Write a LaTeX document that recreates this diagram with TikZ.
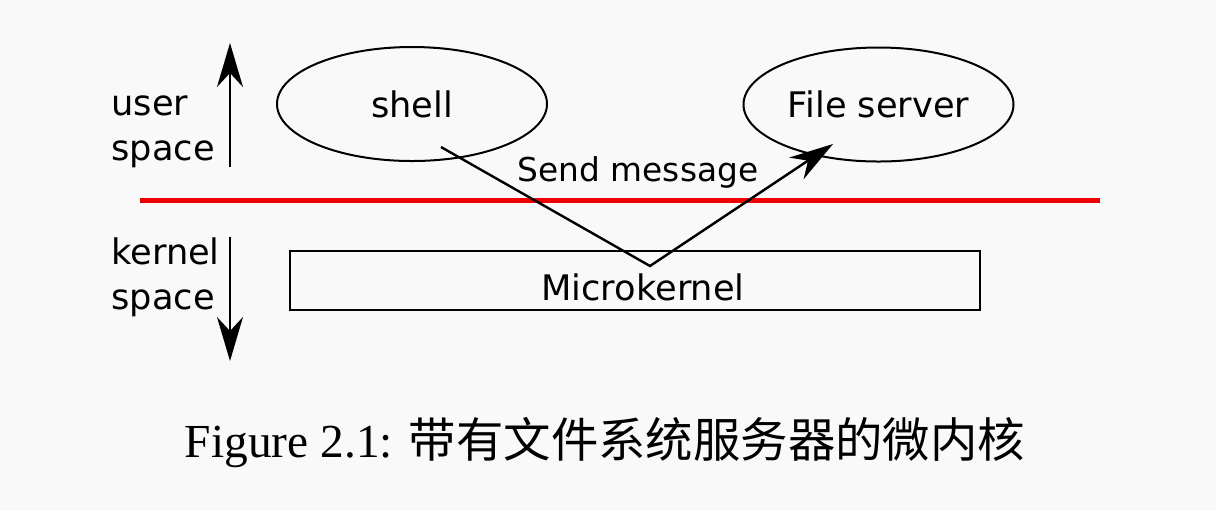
\documentclass[tikz,border=0pt]{standalone}
\usepackage{fontspec}
\setmainfont{Liberation Serif}
\setsansfont{DejaVu Sans}
\newfontfamily\cjk{Noto Sans CJK SC}
\usetikzlibrary{shapes.geometric,arrows.meta}
\definecolor{bgcolor}{HTML}{F9F9F9}
\definecolor{sepred}{HTML}{EE0000}

\begin{document}
\begin{tikzpicture}[x=0.5pt,y=-0.5pt,
    every node/.style={font=\sffamily\fontsize{17.6}{22.3}\selectfont},
    proc/.style={draw,line width=1pt,ellipse,minimum width=135pt,minimum height=57pt,inner sep=0pt},
    bigarrow/.style={line width=1.2pt,-{Stealth[length=22pt,width=13pt,inset=7pt]}}]
    % 背景
    \fill[bgcolor] (0,0) rectangle (1216,511);
    % 分界线
    \draw[sepred,line width=2.5pt] (140,200) -- (1100,200);
    % 左侧标注和箭头
    \node[align=left,anchor=west,inner sep=0pt] (user) at (111,132) {user\\space};
    \node[align=left,anchor=west,inner sep=0pt] (kernel) at (111,277) {kernel\\space};
    \coordinate (ubot) at (230,167);
    \coordinate (utop) at (230,43);
    \coordinate (ktop) at (230,237);
    \coordinate (kbot) at (230,361);
    \draw[bigarrow] (ubot) -- (utop);
    \draw[bigarrow] (ktop) -- (kbot);
    % 进程与微内核
    \node[proc] (shell) at (412,104) {shell};
    \node[proc] (fs) at (878.5,104.5) {File server};
    \node[draw,line width=1pt,minimum width=345pt,minimum height=29.5pt] (mk) at (635,280.5) {};
    \node[anchor=base] (mklabel) at (643,300) {Microkernel};
    % 消息路径
    \coordinate (send) at (441,147);
    \coordinate (turn) at (650,266);
    \coordinate (recv) at (833,144);
    \draw[bigarrow] (send) -- (turn) -- (recv);
    \node[anchor=base,font=\sffamily\fontsize{16.4}{20}\selectfont] (msg) at (638,181) {Send message};
    % 图题
    \node[font=\rmfamily\fontsize{23.7}{28}\selectfont] (cap) at (605,443) {Figure 2.1: {\cjk 带有文件系统服务器的微内核}};
\end{tikzpicture}
\end{document}
